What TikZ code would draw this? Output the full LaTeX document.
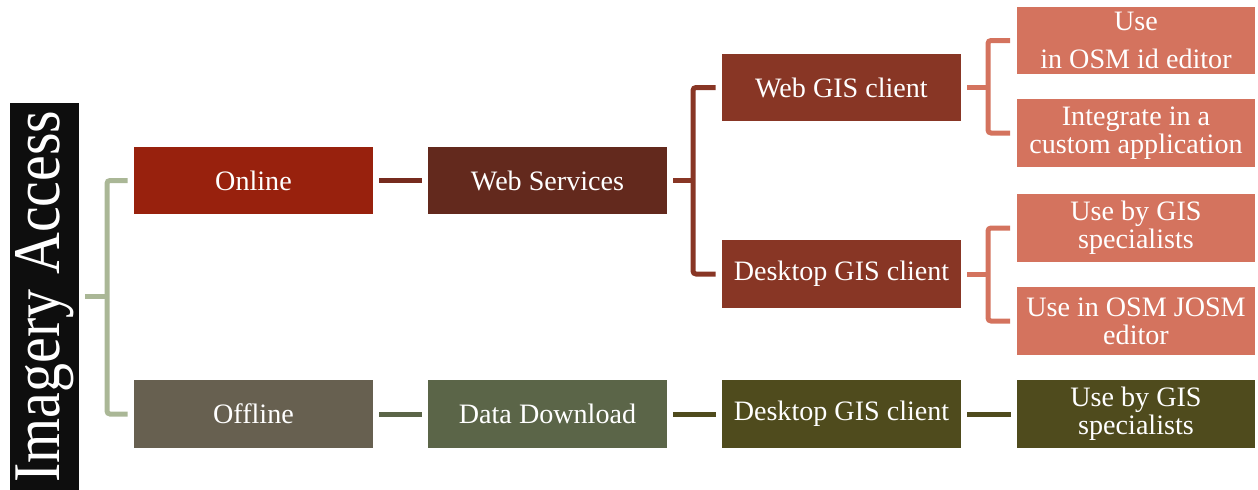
\documentclass[tikz,border=0pt]{standalone}
\usepackage{fontspec}
\setmainfont{Liberation Serif}
\usepackage{tikz}
\usetikzlibrary{calc}
\definecolor{titlebg}{RGB}{14,14,14}
\definecolor{sage}{RGB}{170,183,150}
\definecolor{onlinec}{RGB}{152,33,13}
\definecolor{wsc}{RGB}{99,41,29}
\definecolor{wsline}{RGB}{118,43,30}
\definecolor{clientc}{RGB}{136,54,37}
\definecolor{usec}{RGB}{212,115,94}
\definecolor{offlinec}{RGB}{103,96,80}
\definecolor{ddc}{RGB}{91,101,72}
\definecolor{olivec}{RGB}{79,75,29}

\begin{document}
\begin{tikzpicture}[x=0.02cm,y=-0.02cm]
\tikzstyle{every node}+=[inner sep=0pt, text=white, font=\fontsize{16}{16}\selectfont]
\tikzstyle{box}=[minimum width=4.78cm, minimum height=1.36cm, align=center]
\tikzstyle{link}=[line width=0.1cm, rounded corners=0.06cm]
\tikzstyle{gap}=[shorten <=0.12cm, shorten >=0.11cm]
\useasboundingbox (0,0) rectangle (1258,490);
\node[fill=titlebg, rotate=90, minimum width=7.74cm, minimum height=1.38cm, font=\fontsize{33}{33}\selectfont] (title) at (44.5,296.5) {\scalebox{1}[1.15]{Imagery Access}};
\node[box, fill=onlinec] (online) at (253.5,180.5) {Online};
\node[box, fill=wsc] (ws) at (547.5,180.5) {Web Services};
\node[box, fill=clientc] (webgis) at (841.5,87.5) {Web GIS client};
\node[box, fill=clientc] (deskgis) at (841.5,274) {Desktop GIS client};
\node[box, fill=usec] (osmid) at (1136,40.5) {Use\\[6pt]in OSM id editor};
\node[box, fill=usec] (custom) at (1136,133) {Integrate in a\\custom application};
\node[box, fill=usec] (gisuse) at (1136,228) {Use by GIS\\specialists};
\node[box, fill=usec] (josm) at (1136,321) {Use in OSM JOSM\\editor};
\node[box, fill=offlinec] (offline) at (253.5,414) {Offline};
\node[box, fill=ddc] (dd) at (547.5,414) {Data Download};
\node[box, fill=olivec] (deskoff) at (841.5,414) {Desktop GIS client};
\node[box, fill=olivec] (gisoff) at (1136,414) {Use by GIS\\specialists};
\coordinate (jtitle) at (107,297);
\coordinate (jws) at (693,180.5);
\coordinate (jweb) at (988,87.5);
\coordinate (jdesk) at (988,274);
\draw[link, sage, shorten <=0.12cm] (title.south) -- (title.south -| jtitle);
\draw[link, sage] ([xshift=-0.12cm]online.west) -| (jtitle) |- ([xshift=-0.12cm]offline.west);
\draw[link, wsline, gap] (online) -- (ws);
\draw[link, clientc, shorten <=0.12cm] (ws.east) -- (jws);
\draw[link, clientc] ([xshift=-0.12cm]webgis.west) -| (jws) |- ([xshift=-0.12cm]deskgis.west);
\draw[link, usec, shorten <=0.12cm] (webgis.east) -- (jweb);
\draw[link, usec] ([xshift=-0.12cm]osmid.west) -| (jweb) |- ([xshift=-0.12cm]custom.west);
\draw[link, usec, shorten <=0.12cm] (deskgis.east) -- (jdesk);
\draw[link, usec] ([xshift=-0.12cm]gisuse.west) -| (jdesk) |- ([xshift=-0.12cm]josm.west);
\draw[link, ddc, gap] (offline) -- (dd);
\draw[link, olivec, gap] (dd) -- (deskoff);
\draw[link, olivec, gap] (deskoff) -- (gisoff);
\end{tikzpicture}
\end{document}
